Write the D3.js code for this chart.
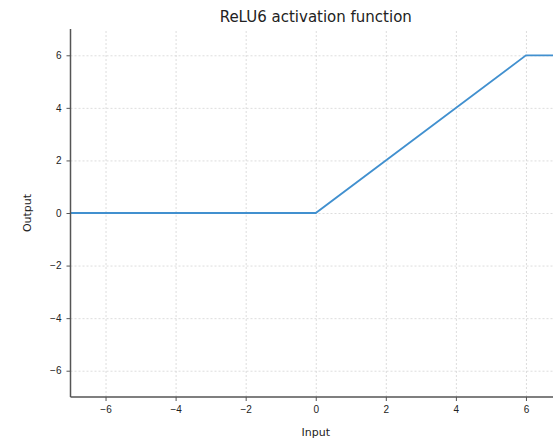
<!DOCTYPE html>
<html>
<head>
<meta charset="utf-8">
<script src="https://cdn.jsdelivr.net/npm/d3@7"></script>
<style>
  body { margin: 0; background: #fff; }
  svg { font-family: "DejaVu Sans", sans-serif; }
  .tick text { font-size: 10px; fill: #222; }
  .grid line { stroke: #d4d4d4; stroke-dasharray: 2,2; stroke-width: 0.8; }
  .grid .domain { display: none; }
</style>
</head>
<body>
<svg id="chart"></svg>
<script>
// values
var inputs = [-7, 0, 6, 7];
var outputs = [0, 0, 6, 6];
var xTicks = [-6, -4, -2, 0, 2, 4, 6];
var yTicks = [-6, -4, -2, 0, 2, 4, 6];

var screen = { width: 553, height: 445 };
var margins = { top: 29, left: 70.5, bottom: 48 };
var graph = { width: 490.5, height: screen.height - margins.top - margins.bottom };

var svg = d3.select("#chart").attr("width", screen.width).attr("height", screen.height);

var xScale = d3.scaleLinear().domain([-7, 7]).range([0, graph.width]);
var yScale = d3.scaleLinear().domain([-7, 7]).range([graph.height, 0]);

var g = svg.append("g")
  .attr("transform", "translate(" + margins.left + "," + margins.top + ")");

//grid
g.append("g").classed("grid", true)
  .attr("transform", "translate(0," + graph.height + ")")
  .call(d3.axisBottom(xScale).tickValues(xTicks).tickSize(-graph.height).tickFormat(""));
g.append("g").classed("grid", true)
  .call(d3.axisLeft(yScale).tickValues(yTicks).tickSize(-graph.width).tickFormat(""));

//line
var line = d3.line()
  .x(function (d, i) { return xScale(d); })
  .y(function (d, i) { return yScale(outputs[i]); });
g.append("path")
  .datum(inputs)
  .attr("d", line)
  .attr("fill", "none")
  .attr("stroke", "#4190cf")
  .attr("stroke-width", 1.8);

//axes
var fmt = function (d) { return d < 0 ? "\u2212" + Math.abs(d) : d; };
var xAxis = g.append("g")
  .attr("transform", "translate(0," + graph.height + ")")
  .call(d3.axisBottom(xScale).tickValues(xTicks).tickSize(4).tickPadding(5).tickFormat(fmt));
xAxis.select(".domain").attr("d", "M0,0H" + graph.width).attr("stroke", "#555").attr("stroke-width", 1.5);
xAxis.selectAll(".tick line").attr("stroke", "#555");

var yAxis = g.append("g")
  .call(d3.axisLeft(yScale).tickValues(yTicks).tickSize(4).tickPadding(5).tickFormat(fmt));
yAxis.select(".domain").attr("d", "M0,0V" + graph.height).attr("stroke", "#555").attr("stroke-width", 1.5);
yAxis.selectAll(".tick line").attr("stroke", "#555");

//labels
svg.append("text")
  .text("ReLU6 activation function")
  .attr("text-anchor", "middle")
  .attr("x", margins.left + graph.width / 2)
  .attr("y", 22)
  .style("font-size", "15px")
  .attr("fill", "#222");

svg.append("text")
  .text("Input")
  .attr("text-anchor", "middle")
  .attr("x", margins.left + graph.width / 2)
  .attr("y", 436)
  .style("font-size", "11px")
  .attr("fill", "#222");

svg.append("g")
  .attr("transform", "translate(31," + (margins.top + graph.height / 2) + ")")
  .append("text")
  .text("Output")
  .attr("text-anchor", "middle")
  .attr("transform", "rotate(-90)")
  .style("font-size", "11px")
  .attr("fill", "#222");
</script>
</body>
</html>
